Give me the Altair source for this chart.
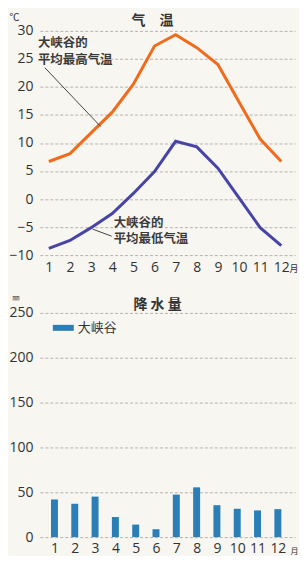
import altair as alt
import pandas as pd

months = list(range(1, 13))
tmax = [6.7, 8.1, 11.8, 15.5, 20.5, 27.3, 29.3, 27.0, 24.0, 17.3, 10.7, 6.7]
tmin = [-8.8, -7.4, -5.1, -2.6, 1.0, 4.9, 10.3, 9.3, 5.5, 0.2, -5.1, -8.3]
precip = [42, 37.2, 45.2, 22.4, 14, 8.8, 47.4, 55.5, 35.6, 31.6, 29.8, 31.2]
site = "大峡谷"
temp_ticks = [-10, -5, 0, 5, 10, 15, 20, 25, 30]
rain_ticks = [0, 50, 100, 150, 200, 250]

FONT = "Open Sans"
CJK = "Noto Sans CJK SC"
BG = "#f7f6f1"
ORANGE = "#f26a1b"
INDIGO = "#4844a6"
BAR = "#2b7fb6"
GRID = "#b9b2ae"
LABEL = "#333333"

df_t = pd.DataFrame({"month": months, "tmax": tmax, "tmin": tmin})
df_p = pd.DataFrame({"month": months, "precip": precip, "site": [site] * 12})
one = pd.DataFrame({"k": [0]})

W, H = 256, 225


def xaxis(title_x, title_y, pad, tsize):
    return alt.Axis(values=months, format="d", labelFontSize=14, labelFont=FONT,
                    labelColor=LABEL, grid=False, ticks=False, domain=False,
                    labelPadding=pad, title="月", titleFont=CJK, titleFontSize=tsize,
                    titleFontWeight="normal", titleColor=LABEL, titleAngle=0,
                    titleAlign="left", titleBaseline="top",
                    titleX=title_x, titleY=title_y)


def yaxis(values, unit, ux, uy, usize):
    return alt.Axis(values=values, labelFontSize=14, labelFont=FONT, labelColor=LABEL,
                    ticks=False, domain=False, labelPadding=7, grid=True,
                    gridColor=GRID, gridDash=[3, 2], gridWidth=1,
                    title=unit, titleFont=CJK, titleFontSize=usize,
                    titleFontWeight="normal", titleColor=LABEL, titleAngle=0,
                    titleAlign="left", titleBaseline="top", titleX=ux, titleY=uy)


def heading(text, x, y):
    return alt.Chart(one).mark_text(
        text=text, font=CJK, fontSize=14, fontWeight="bold", color="#333333",
        align="center", baseline="middle").encode(x=alt.value(x), y=alt.value(y))


xt = alt.X("month:Q", scale=alt.Scale(domain=[0.5755, 12.65], nice=False, zero=False),
           axis=xaxis(250, 9, 5, 9))
yt = alt.Y("v:Q", scale=alt.Scale(domain=[-10, 30], nice=False, zero=False),
           axis=yaxis(temp_ticks, "℃", -31, -18, 10))

line_max = alt.Chart(df_t).transform_calculate(v="datum.tmax").mark_line(
    color=ORANGE, strokeWidth=3).encode(x=xt, y=yt)
line_min = alt.Chart(df_t).transform_calculate(v="datum.tmin").mark_line(
    color=INDIGO, strokeWidth=3).encode(x=xt, y=yt)

ann_max = alt.Chart(one).mark_text(
    text=["大峡谷的", "平均最高气温"], font=CJK, fontSize=12.5, fontWeight="bold",
    color="#3a3a3a", align="left", baseline="top", lineHeight=17
).encode(x=alt.value(-2), y=alt.value(6))
lead_max = alt.Chart(one).mark_rule(color="#444444", strokeWidth=1).encode(
    x=alt.value(5), x2=alt.value(61), y=alt.value(37), y2=alt.value(96))

ann_min = alt.Chart(one).mark_text(
    text=["大峡谷的", "平均最低气温"], font=CJK, fontSize=12.5, fontWeight="bold",
    color="#3a3a3a", align="left", baseline="top", lineHeight=16
).encode(x=alt.value(74), y=alt.value(187))
lead_min = alt.Chart(one).mark_rule(color="#444444", strokeWidth=1).encode(
    x=alt.value(53), x2=alt.value(72), y=alt.value(199), y2=alt.value(206))

top = alt.layer(line_max, line_min, lead_max, ann_max, lead_min, ann_min,
                heading("气　温", 113, -10)).properties(width=W, height=H)

xb = alt.X("month:Q", scale=alt.Scale(domain=[0.528, 12.60], nice=False, zero=False),
           axis=xaxis(251, 10, 4, 8))
yb = alt.Y("precip:Q", scale=alt.Scale(domain=[0, 250], nice=False),
           axis=yaxis(rain_ticks, "㎜", -28, -19, 7))

bars = alt.Chart(df_p).mark_bar(size=7).encode(
    x=xb, y=yb,
    color=alt.Color("site:N", scale=alt.Scale(domain=[site], range=[BAR]), legend=None))

leg_rect = alt.Chart(one).mark_rect(color=BAR).encode(
    x=alt.value(13), x2=alt.value(34), y=alt.value(12), y2=alt.value(18))
leg_text = alt.Chart(one).mark_text(
    text=site, font=CJK, fontSize=13, color="#333333", align="left", baseline="middle"
).encode(x=alt.value(38), y=alt.value(15))

bottom = alt.layer(bars, leg_rect, leg_text,
                   heading("降 水 量", 118, -8)).properties(width=W, height=H)

chart = alt.vconcat(top, bottom, spacing=58, bounds="flush").properties(
    background=BG, padding={"left": 0, "top": 4, "right": 0, "bottom": 0}
).configure_view(stroke=None)

chart.save("out.html", embed_options={"renderer": "svg", "actions": False})
